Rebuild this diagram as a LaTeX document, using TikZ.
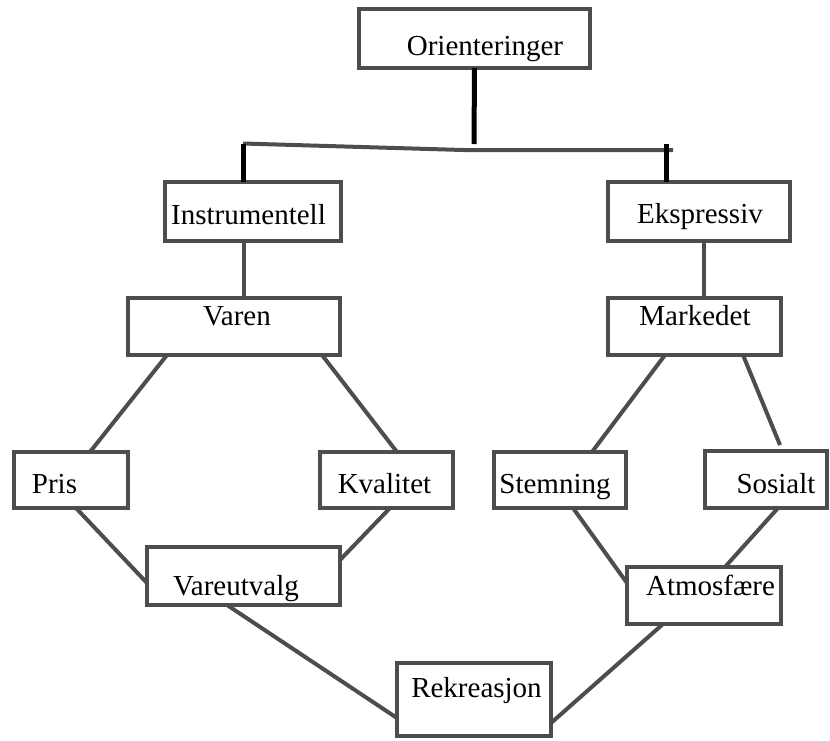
\documentclass[tikz,border=0pt]{standalone}
\definecolor{boxgray}{HTML}{4D4D4D}
\usepackage{fontspec}
\setmainfont{Liberation Serif}
\usepackage{tikz}
\usetikzlibrary{calc}

\begin{document}
\begin{tikzpicture}[x=1pt,y=-1pt,
  box/.style={draw=boxgray,line width=4pt,minimum width=#1,inner sep=0pt,outer sep=0pt},
  lbl/.style={anchor=base,inner sep=0pt,font=\fontsize{29}{34}\selectfont},
  link/.style={draw=boxgray,line width=4pt},
  tick/.style={draw=black,line width=5pt}]
  \useasboundingbox (0,0) rectangle (830,740);

  % top level
  \node[box=231pt,minimum height=59pt] (orient) at (474.5,38.5) {};
  \node[lbl] at (485,55) {Orienteringer};
  \coordinate (barL) at (243,143.5);
  \coordinate (barM) at (463,150);
  \coordinate (barR) at (673,150);
  \coordinate (stem) at (474,144);
  \coordinate (tickR) at (666,144);

  % second level
  \node[box=176pt,minimum height=59pt] (instr) at (253,211.5) {};
  \node[lbl] at (248.5,224) {Instrumentell};
  \node[box=182pt,minimum height=59pt] (ekspr) at (699,211.5) {};
  \node[lbl] at (700,223) {Ekspressiv};

  % third level
  \node[box=212pt,minimum height=57pt] (varen) at (234,326.5) {};
  \node[lbl] at (237,325) {Varen};
  \node[box=173pt,minimum height=57pt] (marked) at (694.5,326.5) {};
  \node[lbl] at (695,325) {Markedet};

  % fourth level
  \node[box=114pt,minimum height=56pt] (pris) at (71,480) {};
  \node[lbl] at (54.5,493) {Pris};
  \node[box=133pt,minimum height=56pt] (kval) at (386.5,480) {};
  \node[lbl] at (384.5,493) {Kvalitet};
  \node[box=132pt,minimum height=56pt] (stemn) at (560,480) {};
  \node[lbl] at (555,493) {Stemning};
  \node[box=122pt,minimum height=57pt] (sosial) at (766,479.5) {};
  \node[lbl] at (776,493) {Sosialt};

  % fifth level
  \node[box=193pt,minimum height=58pt] (vareut) at (243.5,576) {};
  \node[lbl] at (236,595) {Vareutvalg};
  \node[box=154pt,minimum height=57pt] (atmos) at (704,595.5) {};
  \node[lbl] at (710.5,595) {Atmosfære};

  % bottom
  \node[box=154pt,minimum height=73pt] (rekr) at (474,699.5) {};
  \node[lbl] at (476.5,697) {Rekreasjon};

  % connectors
  \draw[tick] (orient.south) -- (stem);
  \draw[link] (barL) -- (barM) -- (barR);
  \draw[tick] (barL) -- ([xshift=78pt]instr.north west);
  \draw[tick] (tickR) -- ([xshift=58pt]ekspr.north west);
  \draw[link] ([xshift=79pt]instr.south west) -- ([xshift=116pt]varen.north west);
  \draw[link] ([xshift=96pt]ekspr.south west) -- ([xshift=96pt]marked.north west);
  \draw[link] ([xshift=39pt]varen.south west) -- ([xshift=76pt]pris.north west);
  \draw[link] ([xshift=194pt]varen.south west) -- ([xshift=77pt]kval.north west);
  \draw[link] ([xshift=62pt]pris.south west) -- ([yshift=-36pt]vareut.north west);
  \draw[link] ([xshift=70pt]kval.south west) -- ([yshift=-13pt]vareut.north east);
  \draw[link] ([xshift=57pt]marked.south west) -- ([xshift=98pt]stemn.north west);
  \draw[link] ([xshift=135pt]marked.south west) -- ([shift={(75pt,6pt)}]sosial.north west);
  \draw[link] ([xshift=79pt]stemn.south west) -- ([yshift=-16pt]atmos.north west);
  \draw[link] ([xshift=73pt]sosial.south west) -- ([xshift=98pt]atmos.north west);
  \draw[link] ([xshift=80pt]vareut.south west) -- ([yshift=-55pt]rekr.north west);
  \draw[link] ([xshift=36pt]atmos.south west) -- ([yshift=-60pt]rekr.north east);
\end{tikzpicture}
\end{document}
